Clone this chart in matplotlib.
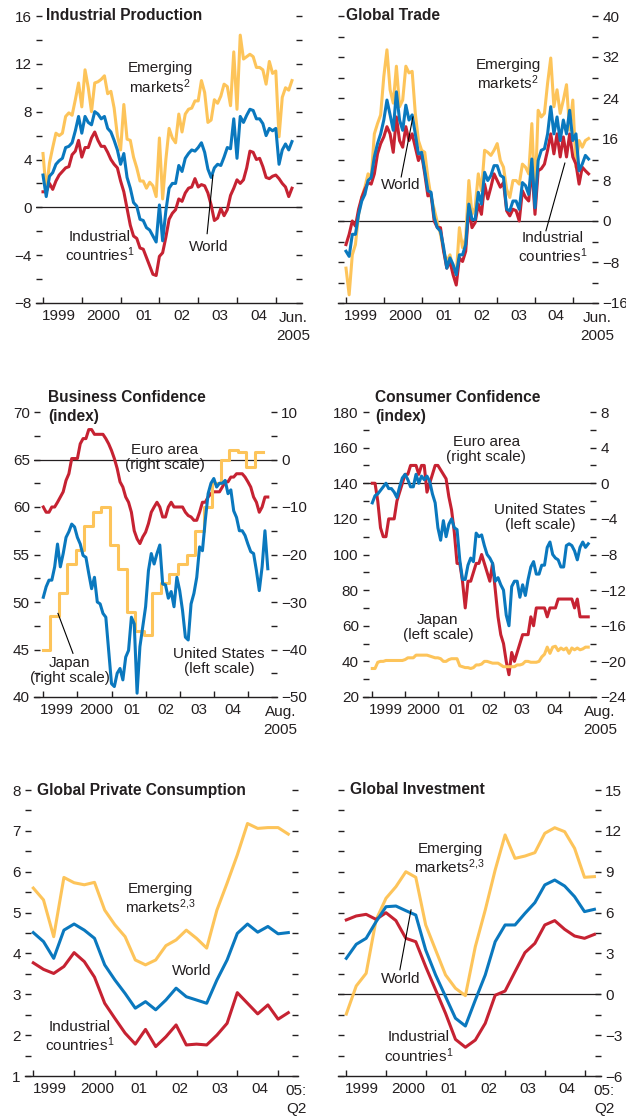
import numpy as np
import matplotlib
matplotlib.use("Agg")
import matplotlib.pyplot as plt

# ---- data ------------------------------------------------------------
# monthly, Jan 1999 - Jun 2005 (percent change, 3mma annualized)
ip_em = [4.5, 1.3, 3.7, 5.0, 6.2, 6.0, 6.2, 7.6, 7.9, 7.7, 9.0, 10.4, 8.4, 11.5, 10.0, 8.0, 10.4, 10.5, 10.7, 11.0,
         9.5, 9.7, 8.3, 6.0, 4.8, 8.6, 5.7, 5.6, 4.2, 3.3, 2.2, 2.2, 1.6, 2.1, 1.8, 0.9, 5.8, 0.7, 4.0, 6.6,
         5.8, 5.4, 7.8, 6.3, 7.8, 8.2, 8.3, 8.9, 8.9, 10.6, 9.6, 7.1, 7.3, 9.0, 8.7, 9.3, 10.3, 10.1, 8.5, 13.0,
         8.2, 14.4, 12.4, 12.6, 12.8, 12.6, 11.7, 11.7, 11.5, 10.3, 12.2, 11.2, 11.4, 5.9, 9.2, 10.0, 9.8, 10.6]
ip_world = [2.7, 0.9, 2.6, 2.9, 3.6, 3.9, 4.1, 5.0, 5.1, 5.4, 6.4, 7.6, 6.2, 7.6, 7.1, 6.9, 8.0, 7.8, 7.4, 7.6,
            6.6, 6.3, 5.6, 4.8, 3.6, 4.5, 2.5, 1.6, 0.4, 0.1, -1.0, -1.1, -1.7, -1.9, -2.4, -2.9, 0.2, -2.8, -0.3, 1.6,
            2.0, 2.0, 3.5, 3.0, 4.1, 4.5, 4.8, 4.7, 5.0, 5.4, 4.6, 3.2, 2.5, 3.3, 3.6, 3.5, 4.2, 5.0, 4.9, 7.4,
            4.1, 7.6, 7.1, 7.7, 8.2, 8.1, 7.4, 7.4, 7.0, 6.0, 6.6, 6.4, 6.6, 3.6, 4.8, 5.3, 4.8, 5.5]
ip_ind = [1.3, 1.3, 2.0, 1.5, 2.2, 2.7, 3.0, 3.3, 3.4, 4.4, 4.7, 5.6, 4.2, 5.0, 5.0, 5.8, 6.3, 5.6, 5.1, 5.1,
          4.6, 4.0, 3.6, 3.3, 2.2, 1.3, -0.1, -1.5, -2.4, -2.6, -3.4, -3.5, -4.2, -4.9, -5.6, -5.7, -4.1, -3.8, -2.5, -1.0,
          -0.5, -0.2, 0.7, 0.5, 1.2, 1.6, 1.7, 2.4, 1.7, 1.9, 1.8, 1.2, 0.2, -1.1, -0.9, -0.1, -0.7, -0.2, 1.0, 1.6,
          2.3, 2.0, 2.3, 3.3, 4.7, 4.6, 4.0, 4.1, 3.4, 2.5, 2.4, 2.6, 2.7, 2.4, 2.0, 1.7, 0.9, 1.6]

tr_em = [-9.2, -14.4, -6.6, -4.6, 1.3, 4.6, 6.6, 9.2, 8.5, 17.0, 19.0, 20.7, 28.2, 33.4, 25.6, 23.0, 30.2, 22.3, 23.6, 30.2,
         28.9, 29.2, 21.0, 15.7, 13.8, 13.4, 8.5, 4.6, 2.3, -0.3, -2.6, -5.9, -7.9, -6.6, -9.2, -10.5, -1.3, -5.2, -3.3, 7.9,
         1.3, 2.6, 9.2, 5.9, 13.8, 13.4, 12.8, 13.8, 15.1, 11.8, 10.5, 6.2, 4.6, 7.9, 7.9, 7.2, 11.1, 10.5, 9.2, 19.0,
         4.6, 21.6, 20.3, 21.0, 26.9, 31.8, 22.3, 25.6, 21.0, 23.6, 26.6, 17.7, 23.6, 10.5, 15.7, 14.4, 15.7, 16.1]
tr_world = [-5.9, -6.9, -2.6, -2.6, 1.3, 3.9, 5.2, 7.9, 8.5, 12.5, 15.1, 17.0, 19.7, 23.6, 20.7, 17.7, 25.2, 19.7, 17.7, 22.6,
            19.7, 20.7, 17.0, 13.1, 13.4, 9.8, 5.9, 5.6, 0.7, -1.3, -2.0, -5.2, -9.2, -7.2, -8.5, -10.5, -6.6, -6.6, -4.6, 3.3,
            0.3, 0.3, 5.6, 3.3, 9.5, 7.9, 8.9, 10.8, 10.8, 8.9, 8.5, 2.3, 2.0, 3.9, 3.9, 2.3, 7.5, 6.9, 5.2, 12.1,
            2.6, 11.8, 13.8, 14.1, 17.0, 22.3, 17.0, 20.3, 15.7, 19.7, 17.0, 21.6, 15.7, 17.0, 9.8, 11.1, 12.8, 12.1]
tr_ind = [-4.6, -2.6, 0.0, -1.0, 2.3, 4.6, 6.2, 7.5, 7.2, 9.2, 13.1, 15.1, 16.4, 18.4, 17.0, 13.4, 20.3, 15.7, 14.4, 18.4,
          15.7, 17.0, 14.4, 11.8, 13.1, 9.2, 4.9, 5.2, 0.0, -1.3, -1.3, -5.9, -9.2, -7.9, -10.5, -12.5, -7.2, -7.9, -5.9, 2.6,
          -1.3, -0.3, 3.3, 1.3, 7.2, 4.3, 6.6, 9.2, 7.9, 6.6, 7.5, 2.0, 1.0, 2.3, 2.0, 0.0, 5.9, 4.6, 3.9, 10.5,
          1.3, 9.8, 10.2, 11.1, 13.8, 17.0, 13.1, 17.0, 12.5, 16.4, 12.5, 17.0, 12.5, 11.1, 7.2, 10.5, 9.8, 9.2]

# monthly, Jan 1999 - Aug 2005
bc_euro = [-10.0, -11.1, -11.1, -10.0, -10.0, -9.0, -7.9, -6.8, -4.4, -3.0, 0.2, 0.2, 0.2, 3.3, 4.4, 4.4, 6.3, 6.3, 5.3, 5.3,
           5.3, 5.3, 4.4, 3.3, 1.9, 0.2, -1.9, -4.7, -5.8, -7.9, -9.0, -11.1, -15.0, -16.7, -17.7, -16.3, -15.3, -13.5, -11.1, -10.0,
           -9.0, -10.0, -12.1, -12.1, -10.0, -9.0, -10.0, -10.0, -10.0, -10.0, -11.1, -11.8, -12.1, -12.8, -12.8, -11.1, -9.0, -9.0, -7.9, -7.2,
           -6.8, -6.8, -6.8, -5.8, -4.7, -4.7, -3.7, -3.7, -3.0, -3.0, -3.0, -3.7, -4.7, -5.8, -7.9, -9.0, -11.1, -10.0, -7.9, -7.9]
bc_us = [50.5, 51.6, 52.3, 52.3, 53.7, 56.1, 53.7, 55.1, 56.8, 57.4, 58.2, 57.9, 56.8, 56.1, 54.9, 54.7, 53.0, 51.4, 52.6, 50.0,
         49.8, 48.8, 48.4, 44.9, 41.4, 41.1, 42.5, 43.0, 41.8, 44.2, 44.9, 48.4, 47.7, 40.4, 45.3, 47.4, 49.5, 53.3, 55.1, 54.0,
         55.1, 56.0, 51.9, 51.8, 50.4, 51.1, 49.5, 52.6, 51.2, 49.1, 46.3, 46.0, 49.8, 50.9, 52.6, 55.8, 55.4, 58.6, 61.4, 62.5,
         63.0, 62.1, 62.5, 62.5, 62.8, 61.4, 61.8, 59.6, 58.9, 57.5, 57.5, 57.0, 56.1, 55.3, 55.1, 53.3, 51.2, 53.7, 57.5, 53.5]
# quarterly Tankan, Q1 1999 - Q2 2005
bc_japan = [-40, -33, -28, -22, -19, -14, -11, -10, -18, -23, -32, -36, -37, -28, -26, -24,
            -22, -20, -15, -10, -5, 0, 2, 1.5, -1.5, 1.5]

cc_euro = [0, 0, -2, -5, -6, -6, -4, -4, -4, -2, -1, 0, 1, 1, 2, 2, 2, 1, 2, 2,
           -1, 0, 1, 2, 2, 1.5, 1, 0.5, -1.5, -3, -5.5, -9, -9, -11, -14, -11, -11, -10, -9, -9,
           -8, -9, -10, -11, -9, -12, -15, -17, -18, -20, -21.5, -19, -20, -19, -18, -17, -17, -17, -15, -16,
           -14, -14, -14, -14, -15, -14, -14, -14, -13, -13, -13, -13, -13, -13, -14, -13, -15, -15, -15, -15]
cc_us = [129, 133, 134, 136, 138, 140, 137, 137, 135, 132, 138, 143, 145, 142, 138, 138, 145, 140, 144, 142,
         144, 141, 134, 129, 115, 108, 119, 110, 117, 120, 115, 114, 97, 86, 86, 94, 98, 96, 112, 110,
         111, 105, 100, 98, 95, 85, 87, 83, 80, 66, 60, 82, 85, 85, 76, 83, 77, 86, 93, 96,
         89, 89, 94, 94, 104, 107, 100, 98, 97, 93, 93, 105, 106, 105, 102, 97, 104, 107, 104, 106]
cc_japan = [36, 36, 39.5, 40, 40, 40.5, 40.5, 40.5, 40.5, 40.5, 40.5, 40.5, 41, 42, 42, 42, 43.5, 43.5, 43.5, 43.5,
            43.5, 43, 42.5, 42, 42, 41.5, 40, 40, 41, 41.5, 41.5, 41.5, 37.5, 37, 36.5, 36.5, 36, 36.5, 38, 38,
            38.5, 40, 40, 39.5, 39, 39, 39, 38, 37, 37, 37, 37, 37, 38, 38, 38.5, 40, 40, 39.5, 39.5,
            39.5, 40, 42.5, 44, 48, 44.5, 48, 48.5, 46, 47.5, 46.5, 47.5, 44.5, 47.5, 46.5, 47.5, 46.5, 47, 48, 48]

# quarterly, Q1 1999 - Q2 2005
pc_em = [5.6, 5.31, 4.41, 5.86, 5.73, 5.68, 5.74, 5.06, 4.70, 4.41, 3.84, 3.72, 3.84,
         4.19, 4.33, 4.57, 4.37, 4.13, 5.06, 5.72, 6.41, 7.18, 7.06, 7.08, 7.08, 6.92]
pc_world = [4.51, 4.29, 3.88, 4.57, 4.72, 4.57, 4.37, 3.72, 3.35, 3.02, 2.66, 2.82, 2.62,
            2.86, 3.15, 2.94, 2.86, 2.78, 3.35, 3.84, 4.49, 4.72, 4.52, 4.66, 4.48, 4.51]
pc_ind = [3.77, 3.61, 3.51, 3.68, 4.02, 3.80, 3.42, 2.78, 2.41, 2.05, 1.78, 2.14, 1.72,
          1.96, 2.25, 1.76, 1.78, 1.76, 2.0, 2.29, 3.04, 2.78, 2.52, 2.74, 2.39, 2.55]

inv_em = [-1.45, 0.61, 1.54, 5.46, 7.05, 7.9, 9.0, 8.59, 5.09, 3.25, 1.42, 0.44, -0.1,
          3.5, 6.19, 9.13, 11.7, 9.98, 10.15, 10.4, 11.82, 12.23, 11.94, 10.72, 8.59, 8.64]
inv_world = [2.64, 3.67, 4.11, 5.33, 6.43, 6.48, 6.14, 5.82, 3.25, 1.42, -0.17, -1.76, -2.33,
             -0.42, 1.42, 3.86, 5.09, 5.09, 5.94, 6.73, 8.03, 8.39, 7.95, 7.17, 6.07, 6.24]
inv_ind = [5.46, 5.75, 5.87, 5.5, 5.99, 5.41, 4.11, 3.86, 2.03, 0.32, -1.4, -3.31, -3.89,
           -3.36, -2.13, -0.07, 0.24, 1.66, 3.06, 3.74, 5.09, 5.41, 4.77, 4.28, 4.11, 4.40]

year_labels = ["1999", "2000", "01", "02", "03", "04"]
year_label_pos = [1999.4, 2000.56, 2001.59, 2002.59, 2003.57, 2004.56]

# ---- style -------------------------------------------------------------
plt.rcParams['font.family'] = ['Liberation Sans', 'DejaVu Sans']
plt.rcParams['mathtext.fontset'] = 'custom'
plt.rcParams['mathtext.rm'] = 'Liberation Sans'
plt.rcParams['mathtext.it'] = 'Liberation Sans:italic'
plt.rcParams['mathtext.bf'] = 'Liberation Sans:bold'

YEL = '#FDC45A'
BLU = '#0A78BE'
RED = '#C62232'
TXT = '#231F20'
FS = 11
LW = 2.2

W, H = 626, 1120
fig = plt.figure(figsize=(W / 100, H / 100), dpi=100)


def panel(x0, x1, ytop, ybot, px99, pxyear, ylim, ymaj, ymin, side, last, lastx):
    ax = fig.add_axes([x0 / W, 1 - ybot / H, (x1 - x0) / W, (ybot - ytop) / H])
    ax.set_xlim(1999 - (px99 - x0) / pxyear, 1999 + (x1 - px99) / pxyear)
    ax.set_ylim(ylim)
    for s in ['left', 'right', 'top']:
        ax.spines[s].set_visible(False)
    ax.spines['bottom'].set_color(TXT)
    ax.spines['bottom'].set_linewidth(1.0)
    ax.set_xticks(range(1999, 2006))
    ax.set_xticklabels([])
    ax.set_xticks(year_label_pos, minor=True)
    ax.set_xticklabels(year_labels, minor=True)
    ax.tick_params(axis='x', which='major', direction='in', length=4, width=1, color=TXT)
    ax.tick_params(axis='x', which='minor', length=0, pad=4.5, labelsize=FS, labelcolor=TXT)
    ax.set_yticks(ymaj)
    ax.set_yticks(ymin, minor=True)
    ax.tick_params(axis='y', which='both', direction='in', length=4, width=1, color=TXT,
                   left=True, right=True, labelleft=(side == 'left'), labelright=(side == 'right'),
                   labelsize=FS, labelcolor=TXT, pad=3)
    ax.annotate(last, xy=(lastx, 0), xycoords=ax.get_xaxis_transform(), xytext=(0, -6),
                textcoords='offset points', ha='center', va='top', fontsize=FS, color=TXT,
                annotation_clip=False, linespacing=1.3)
    return ax


def right_axis(ax, ylim, ymaj, ymin):
    ax2 = ax.twinx()
    ax2.set_ylim(ylim)
    for s in ['left', 'right', 'top', 'bottom']:
        ax2.spines[s].set_visible(False)
    ax2.set_yticks(ymaj)
    ax2.set_yticks(ymin, minor=True)
    ax2.tick_params(axis='y', which='both', direction='in', length=4, width=1, color=TXT,
                    left=False, right=True, labelright=True, labelsize=FS, labelcolor=TXT, pad=3)
    ax.tick_params(axis='y', which='both', right=False)
    return ax2


def title(x, y, s):
    fig.text(x / W, 1 - y / H, s, fontsize=11.2, fontweight='bold', color=TXT, ha='left', va='center',
             linespacing=1.3)


def label(ax, x, y, s, ha='center'):
    ax.text(x, y, s, fontsize=FS, color=TXT, ha=ha, va='top', multialignment='center',
            linespacing=1.1, zorder=5)


def leader(ax, x0, y0, x1, y1):
    ax.plot([x0, x1], [y0, y1], color='black', lw=0.8, zorder=6)


mx78 = 1999 + np.arange(78) / 12
mx80 = 1999 + np.arange(80) / 12
qx = 1999 + np.arange(26) / 4

# Industrial production
ax = panel(36, 302, 16, 303, 43, 38.8, (-8, 16), range(-8, 17, 4), range(-8, 17, 2), 'left',
           "Jun.\n2005", 2005.46)
ax.axhline(0, color=TXT, lw=0.9)
ax.plot(mx78, ip_em, color=YEL, lw=LW)
ax.plot(mx78, ip_ind, color=RED, lw=LW)
ax.plot(mx78, ip_world, color=BLU, lw=LW)
title(46, 15, "Industrial Production")
label(ax, 2002.02, 12.2, "Emerging\nmarkets$^{2}$")
label(ax, 1999.57, -1.9, "Industrial\ncountries$^{1}$", ha='left')
label(ax, 2002.76, -2.7, "World", ha='left')
leader(ax, 2003.23, -2.2, 2003.38, 2.7)

# Global trade
ax = panel(338, 598, 16, 303, 346, 37.8, (-16, 40), range(-16, 41, 8), range(-16, 41, 4), 'right',
           "Jun.\n2005", 2005.64)
ax.axhline(0, color=TXT, lw=0.9)
ax.plot(mx78, tr_em, color=YEL, lw=LW)
ax.plot(mx78, tr_ind, color=RED, lw=LW)
ax.plot(mx78, tr_world, color=BLU, lw=LW)
title(346, 15, "Global Trade")
label(ax, 2003.29, 31.8, "Emerging\nmarkets$^{2}$")
label(ax, 1999.93, 8.4, "World", ha='left')
leader(ax, 2000.46, 8.6, 2000.77, 20.3)
label(ax, 2003.55, -1.9, "Industrial\ncountries$^{1}$", ha='left')
leader(ax, 2004.29, -1.9, 2004.79, 11.3)

# Business confidence
ax = panel(34, 277, 412, 697, 43.3, 34.1, (40, 70), range(40, 71, 5), np.arange(40, 70.1, 2.5), 'left',
           "Aug.\n2005", 2005.96)
ax2 = right_axis(ax, (-50, 10), range(-50, 11, 10), range(-50, 11, 5))
ax2.axhline(0, color=TXT, lw=0.9)
ax2.plot(mx80, bc_euro, color=RED, lw=LW)
jx = np.append(np.concatenate([[1999.0], qx[1:] - 0.05]), 2005.45)
ax2.step(jx, np.append(bc_japan, bc_japan[-1]), where='post', color=YEL, lw=LW)
ax.plot(mx80, bc_us, color=BLU, lw=LW)
ax.set_zorder(ax2.get_zorder() + 1)
ax.patch.set_visible(False)
title(48, 407, "Business Confidence\n(index)")
label(ax, 2002.57, 66.7, "Euro area\n(right scale)")
label(ax, 1999.78, 44.3, "Japan\n(right scale)")
leader(ax, 1999.87, 44.6, 1999.43, 48.8)
label(ax, 2004.15, 45.3, "United States\n(left scale)")

# Consumer confidence
ax = panel(363, 596, 412, 697, 372.3, 32.8, (20, 180), range(20, 181, 20), range(20, 181, 10), 'left',
           "Aug.\n2005", 2005.94)
ax2 = right_axis(ax, (-24, 8), range(-24, 9, 4), range(-24, 9, 2))
ax2.axhline(0, color=TXT, lw=0.9)
ax2.plot(mx80, cc_euro, color=RED, lw=LW)
ax.plot(mx80, cc_japan, color=YEL, lw=LW)
ax.plot(mx80, cc_us, color=BLU, lw=LW)
ax.set_zorder(ax2.get_zorder() + 1)
ax.patch.set_visible(False)
title(375, 407, "Consumer Confidence\n(index)")
label(ax, 2002.47, 167.0, "Euro area\n(right scale)")
label(ax, 2004.11, 129.0, "United States\n(left scale)")
label(ax, 2001.0, 67.2, "Japan\n(left scale)")

# Private consumption
ax = panel(25, 298, 790, 1076, 33.3, 40.8, (1, 8), range(1, 9), np.arange(1, 8.01, 0.5), 'left',
           "05:\nQ2", 2005.44)
ax.plot(qx, pc_em, color=YEL, lw=LW)
ax.plot(qx, pc_ind, color=RED, lw=LW)
ax.plot(qx, pc_world, color=BLU, lw=LW)
title(37, 790, "Global Private Consumption")
label(ax, 2002.11, 5.75, "Emerging\nmarkets$^{2,\\!3}$")
label(ax, 2002.40, 3.74, "World", ha='left')
label(ax, 1999.29, 2.37, "Industrial\ncountries$^{1}$", ha='left')

# Investment
ax = panel(338, 601, 790, 1076, 346.3, 39.7, (-6, 15), range(-6, 16, 3), np.arange(-6, 15.1, 1.5), 'right',
           "05:\nQ2", 2005.49)
ax.axhline(0, color=TXT, lw=0.9)
ax.plot(qx, inv_em, color=YEL, lw=LW)
ax.plot(qx, inv_ind, color=RED, lw=LW)
ax.plot(qx, inv_world, color=BLU, lw=LW)
title(350, 790, "Global Investment")
label(ax, 2001.61, 11.2, "Emerging\nmarkets$^{2,\\!3}$")
label(ax, 1999.87, 1.6, "World", ha='left')
leader(ax, 2000.35, 1.8, 2000.63, 6.2)
label(ax, 1999.95, -2.65, "Industrial\ncountries$^{1}$", ha='left')

fig.savefig("out.png", dpi=100)
